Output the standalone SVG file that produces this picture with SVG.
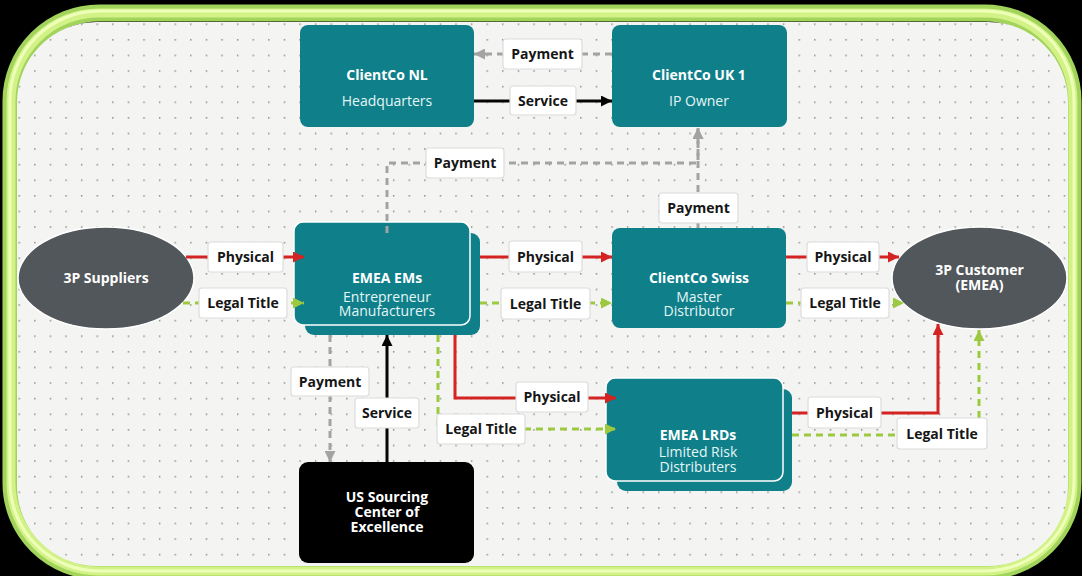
<svg xmlns="http://www.w3.org/2000/svg" width="1082" height="576" viewBox="0 0 1082 576">
<style>
.lbl rect{fill:#fff;stroke:#dcdcdc;stroke-width:1.2}
.lbl text{font-family:"Open Sans","Noto Sans",sans-serif;font-size:14px;font-weight:bold;fill:#161616;text-anchor:middle}
.nt{font-family:"Open Sans","Noto Sans",sans-serif;font-size:14px;font-weight:bold;fill:#fff;text-anchor:middle}
.ns{font-family:"Open Sans","Noto Sans",sans-serif;font-size:14px;fill:#e4f6f6;text-anchor:middle}
.box{fill:#0f7f8a;stroke:#fff;stroke-width:1.5}
.red{fill:none;stroke:#d42323;stroke-width:3}
.grn{fill:none;stroke:#9cc940;stroke-width:3;stroke-dasharray:7,5}
.gry{fill:none;stroke:#a3a3a3;stroke-width:3;stroke-dasharray:7,5}
.blk{fill:none;stroke:#050505;stroke-width:3}
</style>
<defs>
<pattern id="dots" patternUnits="userSpaceOnUse" x="0" y="0" width="15.6" height="15.6">
<rect x="3" y="8" width="1.3" height="1.3" fill="#6a6a6a"/>
</pattern>
<marker id="aR" viewBox="0 0 10 10" refX="10" refY="5" markerWidth="12" markerHeight="11" markerUnits="userSpaceOnUse" orient="auto"><path d="M0,0 L10,5 L0,10 z" fill="#d42323"/></marker>
<marker id="aG" viewBox="0 0 10 10" refX="10" refY="5" markerWidth="12" markerHeight="11" markerUnits="userSpaceOnUse" orient="auto"><path d="M0,0 L10,5 L0,10 z" fill="#9cc940"/></marker>
<marker id="aY" viewBox="0 0 10 10" refX="10" refY="5" markerWidth="12" markerHeight="11" markerUnits="userSpaceOnUse" orient="auto"><path d="M0,0 L10,5 L0,10 z" fill="#a3a3a3"/></marker>
<marker id="aB" viewBox="0 0 10 10" refX="10" refY="5" markerWidth="12" markerHeight="11" markerUnits="userSpaceOnUse" orient="auto"><path d="M0,0 L10,5 L0,10 z" fill="#050505"/></marker>
</defs>
<rect width="1082" height="576" fill="#000"/>
<!-- frame -->
<rect x="11" y="13" width="1062" height="558" rx="88" fill="none" stroke="#a2d35a" stroke-width="17"/>
<rect x="11" y="13" width="1062" height="558" rx="88" fill="none" stroke="#d2f288" stroke-width="9"/>
<rect x="10" y="11" width="1064" height="560" rx="89" fill="none" stroke="#eeffb8" stroke-width="3"/>
<rect x="17" y="22" width="1051" height="544" rx="80" fill="#f4f4f2"/>
<rect x="17" y="22" width="1051" height="544" rx="80" fill="url(#dots)"/>

<g id="n-nl">
<rect x="300" y="25" width="174" height="102" rx="8" fill="#0f7f8a"/>
<text class="nt" x="387" y="80">ClientCo NL</text>
<text class="ns" x="387" y="106">Headquarters</text>
</g>
<g id="n-uk">
<rect x="612" y="25" width="175" height="102" rx="8" fill="#0f7f8a"/>
<text class="nt" x="699" y="80">ClientCo UK 1</text>
<text class="ns" x="699" y="106">IP Owner</text>
</g>
<g id="n-ems">
<rect x="305" y="233" width="175" height="102" rx="9" fill="#0f7f8a"/>
<rect class="box" x="294" y="222" width="176" height="103" rx="9"/>
<text class="nt" x="387" y="283">EMEA EMs</text>
<text class="ns" x="387" y="302">Entrepreneur</text>
<text class="ns" x="387" y="316">Manufacturers</text>
</g>
<g id="n-swiss">
<rect x="612" y="228" width="174" height="100" rx="8" fill="#0f7f8a"/>
<text class="nt" x="699" y="283">ClientCo Swiss</text>
<text class="ns" x="699" y="302">Master</text>
<text class="ns" x="699" y="316">Distributor</text>
</g>
<g id="n-lrds">
<rect x="617" y="389" width="175" height="102" rx="9" fill="#0f7f8a"/>
<rect class="box" x="606" y="378" width="177" height="103" rx="9"/>
<text class="nt" x="698" y="440">EMEA LRDs</text>
<text class="ns" x="698" y="457">Limited Risk</text>
<text class="ns" x="698" y="472">Distributers</text>
</g>
<g id="n-us">
<rect x="299" y="462" width="175" height="101" rx="9" fill="#000"/>
<text class="nt" x="387" y="502">US Sourcing</text>
<text class="nt" x="387" y="517">Center of</text>
<text class="nt" x="387" y="532">Excellence</text>
</g>
<g id="n-sup">
<ellipse cx="106" cy="278" rx="88" ry="51" fill="#52575c" stroke="#fff" stroke-width="1.5"/>
<text class="nt" x="106" y="283">3P Suppliers</text>
</g>
<g id="n-cust">
<ellipse cx="979.5" cy="278" rx="87.5" ry="51" fill="#52575c" stroke="#fff" stroke-width="1.5"/>
<text class="nt" x="979.5" y="275">3P Customer</text>
<text class="nt" x="979.5" y="290">(EMEA)</text>
</g>

<g id="connectors">
<path class="red" d="M186,257 H304" marker-end="url(#aR)"/>
<path class="grn" d="M183,303 H304" marker-end="url(#aG)"/>
<path class="red" d="M480,257 H612" marker-end="url(#aR)"/>
<path class="grn" d="M480,303 H612" marker-end="url(#aG)"/>
<path class="red" d="M786,257 H899" marker-end="url(#aR)"/>
<path class="grn" d="M786,303 H904" marker-end="url(#aG)"/>
<path class="red" d="M792,413 H938 V324" marker-end="url(#aR)"/>
<path class="grn" d="M792,435 H979 V330" marker-end="url(#aG)"/>
<path class="red" d="M455,335 V398 H616" marker-end="url(#aR)"/>
<path class="grn" d="M438,335 V429 H616" marker-end="url(#aG)"/>
<path class="gry" d="M387,233 V163 H698 V128" marker-end="url(#aY)"/>
<path class="gry" d="M698,228 V128" marker-end="url(#aY)"/>
<path class="gry" d="M612,54 H474" marker-end="url(#aY)"/>
<path class="blk" d="M474,101 H612" marker-end="url(#aB)"/>
<path class="gry" d="M330,335 V462" marker-end="url(#aY)"/>
<path class="blk" d="M387,462 V335" marker-end="url(#aB)"/>
</g>

<g id="labels">
<g class="lbl"><rect x="208" y="242" width="75" height="30" rx="3"/><text x="245.5" y="262">Physical</text></g>
<g class="lbl"><rect x="199" y="288" width="88" height="30" rx="3"/><text x="243" y="308">Legal Title</text></g>
<g class="lbl"><rect x="509" y="241" width="73" height="31" rx="3"/><text x="545.5" y="262">Physical</text></g>
<g class="lbl"><rect x="501" y="288" width="89" height="31" rx="3"/><text x="545.5" y="308.5">Legal Title</text></g>
<g class="lbl"><rect x="807" y="242" width="72" height="30" rx="3"/><text x="843" y="262">Physical</text></g>
<g class="lbl"><rect x="801" y="288" width="88" height="30" rx="3"/><text x="845" y="308">Legal Title</text></g>
<g class="lbl"><rect x="808" y="397" width="73" height="31" rx="3"/><text x="844.5" y="417.5">Physical</text></g>
<g class="lbl"><rect x="897" y="418" width="90" height="31" rx="3"/><text x="942" y="438.5">Legal Title</text></g>
<g class="lbl"><rect x="516" y="382" width="72" height="30" rx="3"/><text x="552" y="402">Physical</text></g>
<g class="lbl"><rect x="437" y="414" width="88" height="30" rx="3"/><text x="481" y="434">Legal Title</text></g>
<g class="lbl"><rect x="426" y="148" width="78" height="30" rx="3"/><text x="465" y="168">Payment</text></g>
<g class="lbl"><rect x="659" y="193" width="79" height="30" rx="3"/><text x="698.5" y="213">Payment</text></g>
<g class="lbl"><rect x="503" y="39" width="79" height="30" rx="3"/><text x="542.5" y="59">Payment</text></g>
<g class="lbl"><rect x="510" y="86" width="66" height="29" rx="3"/><text x="543" y="105.5">Service</text></g>
<g class="lbl"><rect x="291" y="367" width="78" height="29" rx="3"/><text x="330" y="386.5">Payment</text></g>
<g class="lbl"><rect x="355" y="398" width="64" height="30" rx="3"/><text x="387" y="418">Service</text></g>
</g>
</svg>
